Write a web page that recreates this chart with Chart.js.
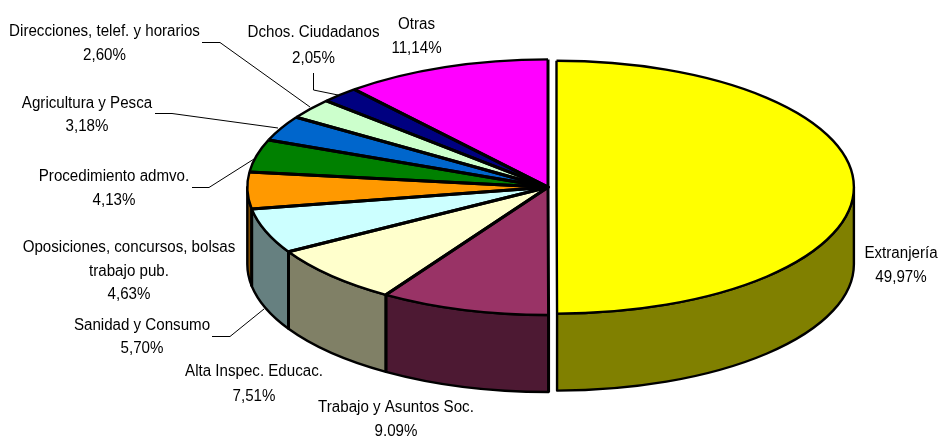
<!DOCTYPE html>
<html>
<head>
<meta charset="utf-8">
<script src="https://cdn.jsdelivr.net/npm/chart.js@4"></script>
<style>
  html, body { margin: 0; padding: 0; background: #fff; overflow: hidden; }
  canvas { display: block; }
</style>
</head>
<body>
<canvas id="pie" width="939" height="436"></canvas>
<script>
const categories = [
  "Extranjería",
  "Trabajo y Asuntos Soc.",
  "Alta Inspec. Educac.",
  "Sanidad y Consumo",
  "Oposiciones, concursos, bolsas|trabajo pub.",
  "Procedimiento admvo.",
  "Agricultura y Pesca",
  "Direcciones, telef. y horarios",
  "Dchos. Ciudadanos",
  "Otras",
];
const values = [49.97, 9.09, 7.51, 5.7, 4.63, 4.13, 3.18, 2.6, 2.05, 11.14];

const topColors = ["#ffff00", "#993366", "#ffffcc", "#ccffff", "#ff9900", "#008000", "#0066cc", "#ccffcc", "#000080", "#ff00ff"];
const wallColors = ["#808000", "#4d1933", "#808066", "#668080", "#804d00", "#004000", "#003366", "#668066", "#000040", "#800080"];

// 3D look: the library's round pie is stretched sideways, depth is added by hand
const RADIUS_X = 300.7;
const DEPTH = 77;
const EXPLODE = [8.5, 0, 0, 0, 0, 0, 0, 0, 0, 0];
const SHRINK = [0.989, 1, 1, 1, 1, 1, 1, 1, 1, 1]; // pulled-out slice is drawn a touch smaller

// label anchors: centre x, first baseline y, line step
const labelPos = [
  [901, 258, 24], [396, 412, 24], [254, 376, 25], [142, 330, 23], [129, 252, 23.5],
  [114, 181, 24], [87, 108, 23], [104.5, 36, 24], [313.5, 37, 26], [416.5, 29, 24],
];
const leaders = [
  [[202, 42.5], [220, 42.5], [310, 107]],
  [[155, 113.5], [172, 113.5], [278, 128]],
  [[192, 187.5], [209, 187.5], [254, 159]],
  [[313.5, 73], [313.5, 90], [338, 95]],
  [[212, 336.5], [230, 336.5], [264, 309]],
];

const fmtPct = (v) => v.toFixed(2).replace(".", ",") + "%";

const pie3d = {
  id: "pie3d",
  beforeDatasetsDraw(chart) {
    const ctx = chart.ctx;
    const arcs = chart.getDatasetMeta(0).data;
    const R = arcs[0].outerRadius;
    const sx = RADIUS_X / R;

    ctx.save();
    ctx.lineJoin = "round";
    ctx.strokeStyle = "#000";

    // side walls, front half only
    arcs.forEach((arc, i) => {
      const a0 = Math.max(arc.startAngle, 0);
      const a1 = Math.min(arc.endAngle, Math.PI);
      if (a1 <= a0) return;
      const cx = arc.x + EXPLODE[i];
      const rx = RADIUS_X * SHRINK[i];
      const ry = R * SHRINK[i];
      ctx.beginPath();
      ctx.ellipse(cx, arc.y, rx, ry, 0, a0, a1);
      ctx.ellipse(cx, arc.y + DEPTH, rx, ry, 0, a1, a0, true);
      ctx.closePath();
      ctx.fillStyle = wallColors[i];
      ctx.fill();
      ctx.lineWidth = 2.4;
      ctx.stroke();
      if (a0 > 0) {
        ctx.lineWidth = 3;
        ctx.beginPath();
        const ex = cx + rx * Math.cos(a0);
        const ey = arc.y + ry * Math.sin(a0);
        ctx.moveTo(ex, ey);
        ctx.lineTo(ex, ey + DEPTH);
        ctx.stroke();
      }
    });

    // top faces, filled by the library's arc elements under the stretch
    arcs.forEach((arc, i) => {
      ctx.save();
      ctx.translate(arc.x + EXPLODE[i], arc.y);
      ctx.scale(sx * SHRINK[i], SHRINK[i]);
      ctx.translate(-arc.x, -arc.y);
      arc.draw(ctx);
      ctx.restore();
    });

    // outlines stay outside the stretch so the pen width is even
    arcs.forEach((arc, i) => {
      const cx = arc.x + EXPLODE[i];
      const rx = RADIUS_X * SHRINK[i];
      const ry = R * SHRINK[i];
      ctx.lineWidth = 2.4;
      ctx.beginPath();
      ctx.ellipse(cx, arc.y, rx, ry, 0, arc.startAngle, arc.endAngle);
      ctx.stroke();
      ctx.lineWidth = i === 0 ? 2.4 : 3;
      ctx.beginPath();
      ctx.moveTo(cx + rx * Math.cos(arc.startAngle), arc.y + ry * Math.sin(arc.startAngle));
      ctx.lineTo(cx, arc.y);
      ctx.lineTo(cx + rx * Math.cos(arc.endAngle), arc.y + ry * Math.sin(arc.endAngle));
      ctx.stroke();
    });

    // leader lines
    ctx.lineWidth = 1;
    leaders.forEach((pts) => {
      ctx.beginPath();
      pts.forEach((p, k) => (k ? ctx.lineTo(p[0], p[1]) : ctx.moveTo(p[0], p[1])));
      ctx.stroke();
    });

    // labels
    ctx.fillStyle = "#000";
    ctx.font = "16px 'Liberation Sans'";
    ctx.textAlign = "center";
    ctx.textBaseline = "alphabetic";
    categories.forEach((name, i) => {
      const [x, y, step] = labelPos[i];
      const lines = name.split("|").concat(fmtPct(values[i]));
      lines.forEach((t, k) => {
        const w = ctx.measureText(t).width * 0.945;
        ctx.fillText(t, x, y + k * step, w);
      });
    });
    ctx.restore();
    return false;
  },
};

new Chart(document.getElementById("pie"), {
  type: "pie",
  data: {
    labels: categories,
    datasets: [{ data: values, backgroundColor: topColors, borderWidth: 0 }],
  },
  options: {
    responsive: false,
    animation: false,
    layout: { padding: { left: 157, top: 59.4, bottom: 121, right: 0 } },
    plugins: { legend: { display: false }, tooltip: { enabled: false } },
  },
  plugins: [pie3d],
});
</script>
</body>
</html>
